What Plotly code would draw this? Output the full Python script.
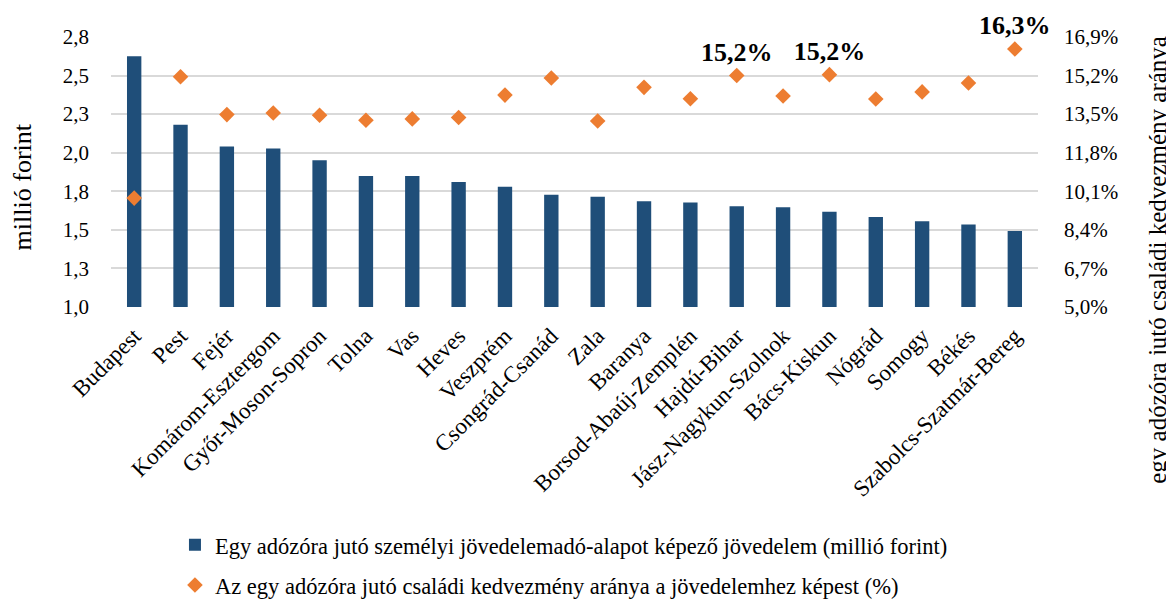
import plotly.graph_objects as go

# megyék
counties = ["Budapest", "Pest", "Fejér", "Komárom-Esztergom", "Győr-Moson-Sopron",
            "Tolna", "Vas", "Heves", "Veszprém", "Csongrád-Csanád", "Zala", "Baranya",
            "Borsod-Abaúj-Zemplén", "Hajdú-Bihar", "Jász-Nagykun-Szolnok", "Bács-Kiskun",
            "Nógrád", "Somogy", "Békés", "Szabolcs-Szatmár-Bereg"]

# jövedelem (millió forint)
income = [2.625, 2.182, 2.040, 2.028, 1.951, 1.849, 1.849, 1.810, 1.780, 1.728,
          1.715, 1.685, 1.677, 1.653, 1.646, 1.618, 1.583, 1.555, 1.534, 1.493]

# családi kedvezmény aránya (%)
share = [9.8, 15.15, 13.48, 13.55, 13.45, 13.23, 13.29, 13.35, 14.34, 15.09,
         13.2, 14.68, 14.18, 15.2, 14.3, 15.24, 14.17, 14.48, 14.87, 16.37]
share_labels = ["", "", "", "", "", "", "", "", "", "",
                "", "", "", "15,2%", "", "15,2%", "", "", "", "16,3%"]

left_ticks = [1.0, 1.25, 1.5, 1.75, 2.0, 2.25, 2.5, 2.75]
left_ticktext = ["1,0", "1,3", "1,5", "1,8", "2,0", "2,3", "2,5", "2,8"]
right_ticks = [5.0, 6.7, 8.4, 10.1, 11.8, 13.5, 15.2, 16.9]
right_ticktext = ["5,0%", "6,7%", "8,4%", "10,1%", "11,8%", "13,5%", "15,2%", "16,9%"]

bar_name = "Egy adózóra jutó személyi jövedelemadó-alapot képező jövedelem (millió forint)"
dot_name = "Az egy adózóra jutó családi kedvezmény aránya a jövedelemhez képest (%)"

FONT = "Liberation Serif"

fig = go.Figure()
fig.add_trace(go.Bar(
    x=counties, y=income, name=bar_name,
    marker=dict(color="#1F4E79", line=dict(width=0)),
    width=0.31, legendgroup="a",
))
fig.add_trace(go.Scatter(
    x=counties, y=share, name=dot_name, yaxis="y2",
    mode="markers+text", text=share_labels, textposition="top center",
    textfont=dict(family=FONT, size=26, color="black", weight="bold"),
    marker=dict(symbol="diamond", size=12, color="#ED7D31"),
    cliponaxis=False, legendgroup="b",
))

fig.update_layout(
    width=1174, height=601,
    margin=dict(l=103, r=144, t=29, b=302),
    plot_bgcolor="white", paper_bgcolor="white",
    font=dict(family=FONT, size=21, color="black"),
    xaxis=dict(range=[-0.5, len(counties) - 0.5], tickangle=-45,
               showgrid=False, showline=False, ticks="", automargin=False,
               ticklabelstandoff=10, tickfont=dict(family=FONT, size=23)),
    yaxis=dict(range=[1.0, 2.75], tickvals=left_ticks, ticktext=left_ticktext,
               showgrid=True, gridcolor="#d9d9d9", gridwidth=1.5,
               zeroline=False, showline=False, ticks="", automargin=False,
               ticklabelstandoff=21, tickfont=dict(family=FONT, size=21)),
    yaxis2=dict(range=[5.0, 16.9], tickvals=right_ticks, ticktext=right_ticktext,
                overlaying="y", side="right", showgrid=False, zeroline=False,
                showline=False, ticks="", automargin=False,
                ticklabelstandoff=25, tickfont=dict(family=FONT, size=21)),
    showlegend=True,
    legend=dict(orientation="v", x=0.069, xanchor="left",
                yref="container", y=0.142, yanchor="top",
                traceorder="grouped", tracegroupgap=8,
                font=dict(family=FONT, size=22.5), bgcolor="rgba(0,0,0,0)"),
)

fig.add_annotation(
    text="millió forint", xref="paper", yref="paper", x=-0.096, y=0.443,
    textangle=-90, showarrow=False, font=dict(family=FONT, size=26),
    xanchor="center", yanchor="middle",
)
fig.add_annotation(
    text="egy adózóra jutó családi kedvezmény aránya",
    xref="paper", yref="paper", x=1.1295, y=0.175,
    textangle=-90, showarrow=False, font=dict(family=FONT, size=25),
    xanchor="center", yanchor="middle",
)

fig.write_html("out.html")
